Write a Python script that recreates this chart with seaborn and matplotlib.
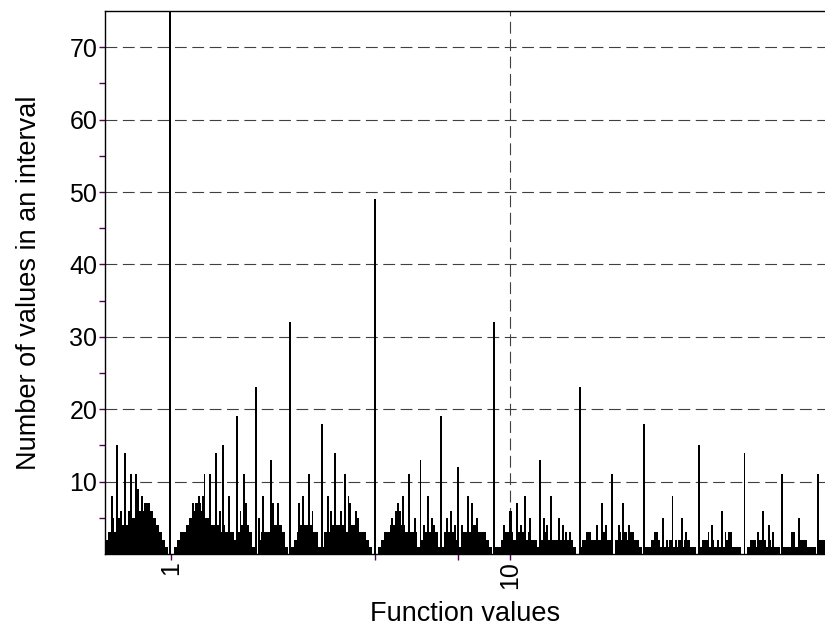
import numpy as np
import pandas as pd
import matplotlib
matplotlib.use("Agg")
import matplotlib.pyplot as plt
import seaborn as sns
from matplotlib.ticker import FixedLocator, FixedFormatter, NullFormatter

# ---------------- data ----------------
x_min, x_max = 0.6386, 84.95
y_max = 75

# background histogram (log-uniform bins across the visible range)
base_counts_a = [2, 3, 3, 3, 4, 4, 4, 4, 5, 5,
                 5, 6, 6, 7, 7, 6, 5, 4, 3, 2,
                 1, 0, 0, 1, 2, 3, 3, 4, 5, 6,
                 7, 7, 6, 5, 5, 4, 4, 4, 3, 4,
                 3, 3, 3, 2, 3, 4, 4, 4, 3, 1,
                 0, 2, 3, 3, 3, 4, 4, 4, 4, 3]
base_counts_b = [1, 0, 1, 2, 3, 4, 4, 4, 4, 3,
                 3, 1, 1, 3, 3, 4, 4, 4, 4, 4,
                 3, 3, 4, 4, 3, 3, 3, 2, 1, 0,
                 0, 1, 2, 3, 3, 4, 4, 4, 4, 4,
                 3, 3, 3, 3, 1, 2, 3, 3, 3, 2,
                 3, 1, 1, 3, 3, 3, 3, 2, 1, 3]
base_counts_c = [3, 3, 4, 4, 3, 3, 3, 2, 1, 0,
                 1, 1, 2, 3, 3, 3, 2, 3, 3, 3,
                 2, 3, 2, 2, 1, 2, 3, 2, 2, 2,
                 2, 2, 2, 2, 2, 2, 1, 0, 1, 2,
                 2, 3, 2, 2, 2, 2, 3, 2, 2, 0,
                 2, 3, 2, 3, 2, 3, 2, 2, 1, 0]
base_counts_d = [1, 1, 2, 2, 2, 1, 1, 1, 2, 1,
                 1, 2, 1, 2, 2, 1, 1, 0, 1, 2,
                 2, 1, 2, 1, 1, 1, 1, 2, 1, 1,
                 1, 1, 0, 0, 1, 2, 2, 1, 2, 1,
                 1, 2, 1, 1, 1, 0, 1, 1, 1, 1,
                 1, 2, 2, 2, 1, 1, 1, 0, 2, 2]

# isolated peaks (function value, number of values)
peaks_below1_x = [0.665, 0.674, 0.693, 0.702, 0.712, 0.727, 0.747, 0.762, 0.773, 0.789, 0.805, 0.816, 1.0]
peaks_below1_y = [8, 5, 15, 5, 6, 14, 6, 11, 5, 11, 9, 8, 120]
peaks_1_4_x = [1.169, 1.201, 1.234, 1.260, 1.303, 1.358, 1.386, 1.433, 1.493, 1.555, 1.598, 1.642,
               1.676, 1.778, 1.830, 1.881, 1.959, 2.000, 2.083, 2.25, 2.402, 2.451, 2.554, 2.624,
               2.778, 2.905, 2.965, 3.067, 3.151, 3.238, 3.350, 3.396, 3.513, 3.562]
peaks_1_4_y = [7, 8, 8, 11, 11, 14, 6, 15, 8, 19, 6, 11,
               7, 23, 5, 8, 13, 7, 7, 32, 7, 8, 11, 6,
               18, 8, 6, 14, 6, 11, 8, 7, 6, 5]
peaks_4_9_x = [4.0, 4.486, 4.579, 4.642, 4.738, 4.835, 5.036, 5.210, 5.427, 5.576, 5.730,
               5.848, 5.968, 6.25, 6.519, 6.699, 6.837, 7.073, 7.268, 7.519, 7.726, 7.993]
peaks_4_9_y = [49, 5, 6, 7, 6, 8, 11, 5, 13, 4, 8, 5, 4, 19, 5, 6, 4, 12, 4, 8, 7, 5]
peaks_9_16_x = [9.0, 9.537, 9.933, 10.14, 10.49, 10.77, 11.00, 11.46, 12.25, 12.51, 12.94,
                13.30, 13.95, 14.33, 14.73, 15.03]
peaks_9_16_y = [32, 4, 6, 6, 7, 4, 8, 5, 13, 5, 4, 8, 5, 4, 3, 3]
peaks_16_36_x = [16.0, 16.87, 17.93, 18.68, 19.20, 20.0, 20.97, 21.70, 22.44, 22.91,
                 25.0, 26.96, 27.33, 28.27, 29.05, 30.05, 31.09, 31.95, 32.83]
peaks_16_36_y = [23, 3, 4, 7, 4, 11, 4, 7, 4, 3,
                 18, 3, 3, 5, 2, 8, 2, 5, 3]
peaks_36_85_x = [36.0, 38.64, 39.71, 40.80, 41.93, 43.37, 44.26, 45.18,
                 49.0, 53.53, 54.64, 55.76, 56.91, 58.48, 59.28,
                 64.0, 67.45, 68.85, 71.72, 81.0, 83.24]
peaks_36_85_y = [15, 3, 4, 2, 6, 3, 3, 3,
                 14, 3, 2, 6, 2, 4, 3,
                 11, 3, 3, 5, 11, 2]

y_major = [10, 20, 30, 40, 50, 60, 70]
y_minor = [5, 15, 25, 35, 45, 55, 65]
x_major = [1, 10]
x_major_labels = ["1", "10"]
x_minor = [4, 7]
x_grid = [10]

# ---------------- build tables ----------------
base_counts = base_counts_a + base_counts_b + base_counts_c + base_counts_d
lo, hi = np.log10(x_min), np.log10(x_max)
base_edges = np.linspace(lo, hi, len(base_counts) + 1)
base_centers = 10 ** ((base_edges[:-1] + base_edges[1:]) / 2)
df_base = pd.DataFrame({"value": base_centers, "count": base_counts})

peak_x = (peaks_below1_x + peaks_1_4_x + peaks_4_9_x + peaks_9_16_x
          + peaks_16_36_x + peaks_36_85_x)
peak_y = (peaks_below1_y + peaks_1_4_y + peaks_4_9_y + peaks_9_16_y
          + peaks_16_36_y + peaks_36_85_y)
df_peak = pd.DataFrame({"value": peak_x, "count": peak_y})
peak_edges = np.linspace(lo, hi, 381)

# ---------------- plot ----------------
sns.set_theme(style="white")
plt.rcParams['font.family'] = ['Liberation Sans', 'DejaVu Sans']
plt.rcParams['lines.scale_dashes'] = False

fig = plt.figure(figsize=(8.25, 6.28), dpi=100)
ax = fig.add_axes([105 / 825, 1 - 554 / 628, 720 / 825, 543 / 628])

grid_style = dict(color='#404040', linestyle=(0, (8.5, 4)), linewidth=0.8, zorder=0.5)
ax.set_axisbelow(True)
ax.grid(True, which='major', axis='y', **grid_style)
for gx in x_grid:
    ax.axvline(gx, **grid_style)

sns.histplot(data=df_base, x="value", weights="count", bins=base_edges.tolist(),
             log_scale=True, element="step", fill=True, color="black",
             alpha=1, linewidth=0, ax=ax)
sns.histplot(data=df_peak, x="value", weights="count", bins=peak_edges.tolist(),
             log_scale=True, element="bars", fill=True, color="black",
             alpha=1, linewidth=0, ax=ax)

ax.set_xlim(x_min, x_max)
ax.set_ylim(0, y_max)
ax.grid(False, axis='x')

ax.xaxis.set_major_locator(FixedLocator(x_major))
ax.xaxis.set_major_formatter(FixedFormatter(x_major_labels))
ax.xaxis.set_minor_locator(FixedLocator(x_minor))
ax.xaxis.set_minor_formatter(NullFormatter())
ax.yaxis.set_major_locator(FixedLocator(y_major))
ax.yaxis.set_minor_locator(FixedLocator(y_minor))
ax.yaxis.set_minor_formatter(NullFormatter())

ax.tick_params(axis='both', which='both', direction='out', length=4, width=1,
               color='#550055', labelsize=18, labelcolor='black',
               bottom=True, left=True, top=False, right=False)
ax.tick_params(axis='x', which='major', labelrotation=90, pad=1)
ax.tick_params(axis='y', which='major', pad=1.5)

for side in ['left', 'top', 'bottom']:
    ax.spines[side].set_visible(True)
    ax.spines[side].set_color('black')
    ax.spines[side].set_linewidth(1)
ax.spines['right'].set_visible(False)

ax.set_xlabel("Function values", fontsize=19.5, color='black')
ax.set_ylabel("Number of values in an interval", fontsize=19.5, color='black')
ax.xaxis.set_label_coords(0.5, -0.086)
ax.yaxis.set_label_coords(-0.087, 0.5)

fig.savefig("out.png", dpi=100)
